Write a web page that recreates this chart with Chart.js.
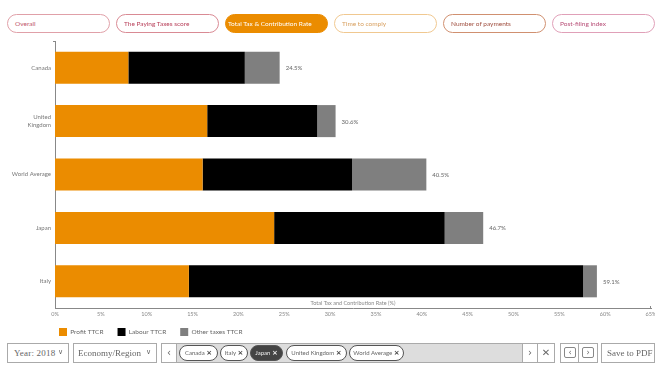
<!DOCTYPE html>
<html><head><meta charset="utf-8">
<script src="https://cdn.jsdelivr.net/npm/chart.js@4"></script>
<style>
html,body{margin:0;padding:0;background:#fff;width:655px;height:368px;overflow:hidden}
#wrap{position:absolute;left:0;top:0;width:655px;height:356px}
.pill{position:absolute;top:14px;height:19px;width:103px;box-sizing:border-box;border:1px solid;border-radius:10px;font:6.5px/17px Lato,sans-serif;padding-left:7px;white-space:nowrap;background:#fff}
.box{position:absolute;top:343px;height:20px;box-sizing:border-box;border:1px solid #aaa;background:#fff;font:9px/18px "Liberation Serif",serif;color:#666;white-space:nowrap}
.chev{position:absolute;right:5px;top:0;font:7px/17px "DejaVu Sans",sans-serif;letter-spacing:0}
.chip{position:absolute;top:345px;height:16px;box-sizing:border-box;border:1px solid #555;border-radius:8px;background:#fff;font:6px/14px Lato,sans-serif;color:#666;text-align:center;white-space:nowrap}
.chip b{font:bold 7px/14px "DejaVu Sans",sans-serif;color:#444}
.ic{font:10px/18px "DejaVu Sans",sans-serif;text-align:center;color:#666}
.bub{position:absolute;left:3px;top:3px;width:12px;height:11px;box-sizing:border-box;border:1px solid #888;border-radius:2px;font:8px/9px "DejaVu Sans",sans-serif;text-align:center;color:#666}
</style></head><body>
<div id="wrap"><canvas id="c"></canvas></div>
<div class="pill" style="left:7px;border-color:#e0a0a8;color:#c0566a">Overall</div>
<div class="pill" style="left:116px;border-color:#d98a94;color:#b8405a">The Paying Taxes score</div>
<div class="pill" style="left:225px;border-color:#eb8c00;background:#eb8c00;color:#fff;padding-left:2px">Total Tax &amp; Contribution Rate</div>
<div class="pill" style="left:334px;border-color:#f0c890;color:#d8a060">Time to comply</div>
<div class="pill" style="left:443px;border-color:#d09070;color:#a05040">Number of payments</div>
<div class="pill" style="left:552px;border-color:#e0a0b8;color:#b85078">Post-filing index</div>

<div class="box" style="left:7px;width:62px;padding-left:6px;letter-spacing:.2px">Year: 2018<span class="chev">&#8744;</span></div>
<div class="box" style="left:73px;width:84px;padding-left:4px">Economy/Region<span class="chev">&#8744;</span></div>
<div class="box ic" style="left:161px;width:16px">&#8249;</div>
<div class="box" style="left:176px;width:347px;background:#ddd"></div>
<div class="box ic" style="left:522px;width:16px">&#8250;</div>
<div class="box ic" style="left:537px;width:18px">&#10005;</div>
<div class="box ic" style="left:560px;width:19px"><div class="bub">&#8249;</div></div>
<div class="box ic" style="left:578px;width:20px"><div class="bub">&#8250;</div></div>
<div class="box" style="left:601px;width:54px;padding-left:5px">Save to PDF</div>
<div class="chip" style="left:179px;width:39px">Canada <b>&#215;</b></div>
<div class="chip" style="left:220px;width:28px">Italy <b>&#215;</b></div>
<div class="chip" style="left:250px;width:33px;background:#444;color:#eee">Japan <b style="color:#eee">&#215;</b></div>
<div class="chip" style="left:286px;width:61px">United Kingdom <b>&#215;</b></div>
<div class="chip" style="left:349px;width:55px">World Average <b>&#215;</b></div>
<script>
const categories = ["Canada", "United Kingdom", "World Average", "Japan", "Italy"];
const profitTTCR = [8.0, 16.6, 16.1, 23.9, 14.6];
const labourTTCR = [12.7, 12.0, 16.3, 18.6, 43.0];
const otherTTCR = [3.8, 2.0, 8.1, 4.2, 1.5];
const totals = [24.5, 30.6, 40.5, 46.7, 59.1];
const seriesNames = ["Profit TTCR", "Labour TTCR", "Other taxes TTCR"];
const axisTitle = "Total Tax and Contribution Rate (%)";

const overlay = {
  id: "overlay",
  afterLayout(chart) { chart.legend.left = 45; chart.legend.top = 314; },
  afterDatasetsDraw(chart) {
    const { ctx, scales: { x, y }, chartArea: a } = chart;
    ctx.save();
    ctx.font = "6px Lato, sans-serif";
    ctx.fillStyle = "#666";
    ctx.textBaseline = "middle";
    ctx.textAlign = "left";
    totals.forEach((t, i) => ctx.fillText(t.toFixed(1) + "%", x.getPixelForValue(t) + 6, y.getPixelForValue(i) + 0.5));
    ctx.textAlign = "center";
    ctx.fillStyle = "#888";
    ctx.font = "5.5px Lato, sans-serif";
    ctx.fillText(axisTitle, (a.left + a.right) / 2, a.bottom - 5);
    ctx.strokeStyle = "#888";
    ctx.lineWidth = 1;
    ctx.beginPath();
    ctx.moveTo(a.left - 2, a.top + .5); ctx.lineTo(a.left, a.top + .5);
    ctx.moveTo(a.right - .5, a.bottom); ctx.lineTo(a.right - .5, a.bottom - 2);
    ctx.stroke();
    ctx.restore();
  }
};

new Chart(document.getElementById("c"), {
  type: "bar",
  data: {
    labels: categories,
    datasets: [
      { label: seriesNames[0], data: profitTTCR, backgroundColor: "#eb8c00" },
      { label: seriesNames[1], data: labourTTCR, backgroundColor: "#000000" },
      { label: seriesNames[2], data: otherTTCR, backgroundColor: "#7f7f7f" }
    ]
  },
  options: {
    indexAxis: "y",
    responsive: true,
    maintainAspectRatio: false,
    animation: false,
    barPercentage: 0.6,
    categoryPercentage: 1,
    layout: { padding: { top: 41, right: 4, left: 0, bottom: 0 } },
    plugins: {
      tooltip: { enabled: false },
      legend: {
        position: "bottom",
        align: "start",
        labels: { boxWidth: 8, boxHeight: 8, padding: 14, color: "#666", font: { size: 6.5, family: "Lato, sans-serif" } }
      }
    },
    scales: {
      x: {
        stacked: true, min: 0, max: 65,
        afterFit(s) { s.height = 16; s.paddingRight = 0; s.paddingLeft = 0; },
        border: { color: "#888", width: 1 },
        grid: { display: false, drawTicks: false },
        ticks: { stepSize: 5, color: "#888", font: { size: 5.5, family: "Lato, sans-serif" }, padding: 3, maxRotation: 0, callback: v => v + "%" }
      },
      y: {
        stacked: true,
        afterFit(s) { s.width = 55; s.paddingTop = 0; s.paddingBottom = 0; },
        border: { color: "#888", width: 1 },
        grid: { display: false, drawTicks: false },
        ticks: {
          color: "#777", font: { size: 6, family: "Lato, sans-serif" }, padding: 4,
          callback(v) { const l = categories[v]; return l === "United Kingdom" ? l.split(" ") : l; }
        }
      }
    }
  },
  plugins: [overlay]
});
</script>
</body></html>
